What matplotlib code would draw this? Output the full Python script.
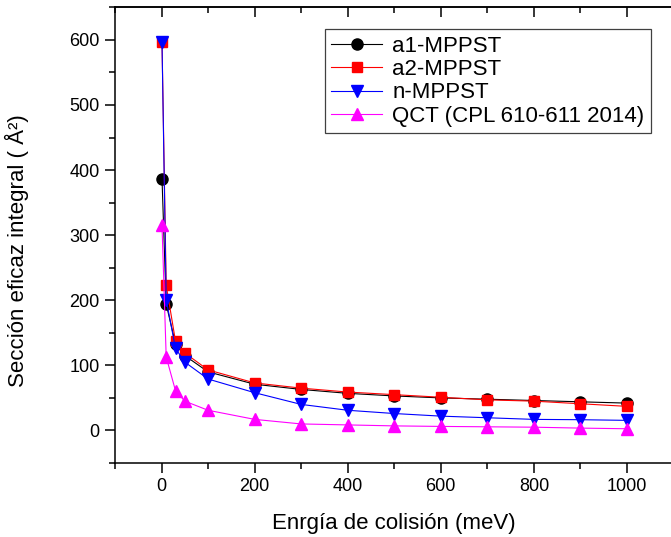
import matplotlib
matplotlib.use("Agg")
import matplotlib.pyplot as plt
from matplotlib.ticker import MultipleLocator

energy = [1, 10, 30, 50, 100, 200, 300, 400, 500, 600, 700, 800, 900, 1000]
a1_mppst = [387, 194, 133, 115, 90, 71, 63, 57, 53, 50, 48, 46, 44, 42]
a2_mppst = [596, 223, 137, 119, 93, 73, 65, 59, 55, 51, 47, 45, 41, 37]
n_mppst = [596, 201, 126, 105, 79, 58, 40, 31, 26, 22, 19.5, 17, 16.5, 15.5]
qct = [315, 113, 61, 45, 31, 17, 10, 8.5, 7, 6.2, 5.6, 5, 3.6, 2.6]

labels = ["a1-MPPST", "a2-MPPST", "n-MPPST", "QCT (CPL 610-611 2014)"]

plt.rcParams['font.family'] = ['Liberation Sans', 'DejaVu Sans']

fig = plt.figure(figsize=(6.71, 5.37), dpi=100)
ax = fig.add_axes([115/671, 74/537, 558.5/671, 455.7/537])

ax.plot(energy, a1_mppst, color='black', marker='o', markersize=8, linewidth=0.8, label=labels[0])
ax.plot(energy, a2_mppst, color='#ff0000', marker='s', markersize=7.5, linewidth=0.8, label=labels[1])
ax.plot(energy, n_mppst, color='#0000ff', marker='v', markersize=8.5, linewidth=0.8, label=labels[2])
ax.plot(energy, qct, color='#ff00ff', marker='^', markersize=8.5, linewidth=0.8, label=labels[3])

ax.set_xlim(-100, 1100)
ax.set_ylim(-50, 650)
ax.xaxis.set_major_locator(MultipleLocator(200))
ax.xaxis.set_minor_locator(MultipleLocator(100))
ax.yaxis.set_major_locator(MultipleLocator(100))
ax.yaxis.set_minor_locator(MultipleLocator(50))

for s in ax.spines.values():
    s.set_linewidth(1.1)

ax.tick_params(axis='both', which='major', direction='out', length=7, width=1.1, labelsize=13, pad=4)
ax.tick_params(axis='both', which='minor', direction='out', length=4, width=1.1)
ax.tick_params(axis='x', which='both', top=False)

# Inward ticks on top spine
sec = ax.secondary_xaxis('top')
sec.xaxis.set_major_locator(MultipleLocator(200))
sec.xaxis.set_minor_locator(MultipleLocator(100))
sec.tick_params(which='major', direction='in', length=7, width=1.1, labeltop=False)
sec.tick_params(which='minor', direction='in', length=4, width=1.1)
sec.spines['top'].set_linewidth(1.1)

ax.set_xlabel("Enrgía de colisión (meV)", fontsize=16, labelpad=13)
ax.set_ylabel("Sección eficaz integral ( Å²)", fontsize=16)
ax.yaxis.set_label_coords(-0.154, 0.465)

leg = ax.legend(loc='upper right', bbox_to_anchor=(0.96, 0.952), borderaxespad=0,
                fontsize=16, handlelength=2.3, handletextpad=0.45, labelspacing=0.1,
                borderpad=0.3, fancybox=False, framealpha=1, edgecolor='#404040')
leg.get_frame().set_linewidth(0.9)

fig.savefig("out.png", dpi=100)
